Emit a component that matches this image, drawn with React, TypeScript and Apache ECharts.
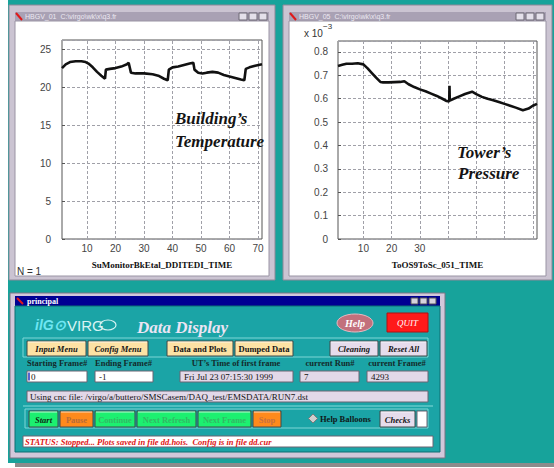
import React, { useEffect, useRef } from 'react';
import * as echarts from 'echarts';

// ---------- data ----------
const tempX = [1.2, 2.5, 4, 6, 8, 9.5, 10.5, 12, 13.5, 15, 16.3, 16.6, 18, 20, 22, 24, 24.6, 25.4, 27, 30, 33, 35, 37, 38.3, 38.7, 40, 42, 44, 46, 47.3, 47.7, 49, 50.5, 52, 54, 56, 58, 60, 62, 64, 65.2, 65.7, 67, 69, 71.4];
const tempY = [22.5, 23.0, 23.3, 23.4, 23.4, 23.3, 23.1, 22.6, 22.0, 21.5, 21.1, 22.3, 22.4, 22.5, 22.7, 23.0, 23.2, 21.9, 21.8, 21.8, 21.7, 21.5, 21.1, 20.9, 22.3, 22.6, 22.7, 22.9, 23.1, 23.2, 22.3, 21.9, 21.8, 21.9, 22.0, 21.9, 21.6, 21.4, 21.2, 21.0, 20.9, 22.4, 22.6, 22.8, 23.0];

const presX = [1, 2.5, 4, 6, 8, 10, 11.5, 13, 14.5, 16, 17, 19, 21, 23, 24.5, 26, 28, 30, 32, 34, 36, 38, 39.5, 40.4, 40.5, 40.6, 42, 44, 46, 48.5, 50, 52, 54, 56, 58, 60, 62, 64, 66.5, 68.5, 70, 71.5];
const presY = [0.74, 0.745, 0.75, 0.75, 0.752, 0.747, 0.73, 0.71, 0.69, 0.672, 0.67, 0.67, 0.671, 0.672, 0.675, 0.662, 0.65, 0.64, 0.632, 0.622, 0.612, 0.6, 0.59, 0.588, 0.655, 0.592, 0.6, 0.61, 0.62, 0.63, 0.62, 0.608, 0.6, 0.594, 0.586, 0.578, 0.57, 0.562, 0.551, 0.558, 0.57, 0.578];

const xGridValues = [10, 20, 30, 40, 50, 60, 70];
const tempXLabels = [10, 20, 30, 40, 50, 60, 70];
const presXLabels = [10, 20, 30];
const tempAxisName = 'SuMonitorBkEtal_DDITEDI_TIME';
const presAxisName = 'ToOS9ToSc_051_TIME';
const tempNote = ['Building\u2019s', 'Temperature'];
const presNote = ['Tower\u2019s', 'Pressure'];

const menuLabels = ['Input Menu', 'Config Menu', 'Data and Plots', 'Dumped Data', 'Cleaning', 'Reset All'];
const fieldLabels = ['Starting Frame#', 'Ending Frame#', 'UT\u2019s Time of first frame', 'current Run#', 'current Frame#'];
const fieldValues = ['0', '-1', 'Fri Jul 23 07:15:30 1999', '7', '4293'];
const fileLine = 'Using cnc file: /virgo/a/buttero/SMSCasem/DAQ_test/EMSDATA/RUN7.dst';
const controlLabels = ['Start', 'Pause', 'Continue', 'Next Refresh', 'Next Frame', 'Stop'];
const statusLine = 'STATUS: Stopped... Plots saved in file dd.hois.  Config is in file dd.cur';

// ---------- helpers ----------
const SERIF = "'Liberation Serif', 'DejaVu Serif', serif";
const SANS = "'Liberation Sans', Arial, sans-serif";

const R = (x: number, y: number, w: number, h: number, fill: string, stroke = 'none', z = 1, lw = 1) => ({
  type: 'rect', z, silent: true, shape: { x, y, width: w, height: h }, style: { fill, stroke, lineWidth: lw },
});
const T = (x: number, y: number, text: string, font: string, fill: string, align = 'left', z = 12) => ({
  type: 'text', z, silent: true, x, y, style: { text, font, fill, align, verticalAlign: 'middle' },
});
const L = (x1: number, y1: number, x2: number, y2: number, stroke: string, lw = 1, z = 2) => ({
  type: 'line', z, silent: true, shape: { x1, y1, x2, y2 }, style: { stroke, lineWidth: lw },
});

function windowFrame(x: number, y: number, w: number, h: number, title: string) {
  const els: any[] = [];
  els.push(R(x, y, w, h, '#cbc4d2', '#8e8898', -10));
  els.push(R(x + 6, y + 7, w - 12, 9, '#a9a1b4', 'none', -9));
  els.push(L(x + 7, y + 8, x + 13, y + 15, '#e01818', 2, -8));
  els.push(T(x + 16, y + 11.5, title, `7px ${SANS}`, '#ece8f2', 'left', -8));
  for (let i = 0; i < 3; i++) {
    els.push(R(x + w - 36 + i * 10, y + 8, 8, 7, '#e4e0ea', '#6c6874', -8));
  }
  els.push(R(x + 6, y + 16, w - 12, h - 20, '#ffffff', '#9a94a4', -9));
  return els;
}

function button(x: number, y: number, w: number, h: number, fill: string, label: string, color: string, font: string) {
  return [
    R(x, y, w, h, fill, '#3e4a4a', 5),
    L(x + 1, y + 1, x + w - 1, y + 1, 'rgba(255,255,255,0.7)', 1, 6),
    T(x + w / 2, y + h / 2 + 0.5, label, font, color, 'center', 7),
  ];
}

function buildGraphic() {
  const g: any[] = [];
  // desktop
  g.push(R(8, 0, 546, 463, '#17a39b', 'none', -20));
  g.push(R(15, 463, 539, 4, '#8c8c8c', 'none', -20));
  // top windows
  g.push(...windowFrame(9, 5, 266, 275, 'HBGV_01  C:\\virgo\\wk\\x\\q3.fr'));
  g.push(...windowFrame(283, 5, 269, 275, 'HBGV_05  C:\\virgo\\wk\\x\\q3.fr'));

  // annotations
  const noteFont = `italic bold 17px ${SERIF}`;
  g.push(T(175, 118, tempNote[0], noteFont, '#141414', 'left', 30));
  g.push(T(175, 141, tempNote[1], noteFont, '#141414', 'left', 30));
  g.push(T(457, 152, presNote[0], noteFont, '#141414', 'left', 30));
  g.push(T(458, 173, presNote[1], noteFont, '#141414', 'left', 30));
  g.push(T(17, 271, 'N = 1', `10px ${SANS}`, '#333', 'left', 30));
  g.push(T(304, 33, 'x 10', `10px ${SANS}`, '#333', 'left', 30));
  g.push(T(323, 26, '\u22123', `8px ${SANS}`, '#333', 'left', 30));

  // bottom panel
  g.push(R(10, 293, 435, 165, '#d2c8da', '#7a7484', 0));
  g.push(R(15, 296, 425, 10, '#000092', 'none', 1));
  g.push(L(17, 298, 23, 304, '#e01818', 2, 2));
  g.push(T(27, 301, 'principal', `bold 8px ${SERIF}`, '#ffffff', 'left', 2));
  for (let i = 0; i < 3; i++) g.push(R(411 + i * 9, 298, 7, 6, '#d6d2dc', '#555', 2));
  g.push(R(15, 306, 425, 146, '#1ba4a6', '#0f6f72', 1));

  // logo + title
  g.push(T(35, 325, 'ilG\u2299', `italic bold 14px ${SANS}`, '#6fe6f2', 'left', 4));
  g.push(T(67, 325, 'VIRG', `15px ${SANS}`, '#d8f4f4', 'left', 4));
  g.push({ type: 'ellipse', z: 4, silent: true, shape: { cx: 108, cy: 325, rx: 8, ry: 5 }, style: { fill: 'none', stroke: '#d8f4f4', lineWidth: 1.2 } });
  g.push(T(137, 327, 'Data Display', `italic bold 17px ${SERIF}`, '#ece4f4', 'left', 4));
  g.push({ type: 'ellipse', z: 4, silent: true, shape: { cx: 355, cy: 323, rx: 18, ry: 9 }, style: { fill: '#c2707c', stroke: '#e8b8c0', lineWidth: 1 } });
  g.push(T(355, 323.5, 'Help', `italic bold 10px ${SERIF}`, '#ffffff', 'center', 5));
  g.push(R(387, 313, 41, 19, '#ff1a1a', '#b01010', 4));
  g.push(T(407.5, 322.5, 'QUIT', `italic 9px ${SERIF}`, '#ffffff', 'center', 5));

  // menu row
  g.push(R(23, 338, 405, 19, 'none', '#7fd6d6', 3));
  const menuLayout = [
    [27, 59, '#fde2a4', true], [88, 60, '#fde2a4', true], [167, 66, '#fde2a4', false],
    [235, 58, '#fde2a4', false], [330, 48, '#e6dcec', true], [380, 47, '#e6dcec', true],
  ] as const;
  menuLabels.forEach((lab, i) => {
    const [x, w, fill, it] = menuLayout[i];
    g.push(...button(x, 341, w, 15, fill, lab, '#141414', `${it ? 'italic ' : ''}bold 8.5px ${SERIF}`));
  });

  // labels and fields
  const labFont = `bold 8.5px ${SERIF}`;
  g.push(T(27, 363, fieldLabels[0], labFont, '#142a2a', 'left', 4));
  g.push(T(95, 363, fieldLabels[1], labFont, '#142a2a', 'left', 4));
  g.push(T(236, 363, fieldLabels[2], labFont, '#142a2a', 'center', 4));
  g.push(T(330, 363, fieldLabels[3], labFont, '#142a2a', 'center', 4));
  g.push(T(397, 363, fieldLabels[4], labFont, '#142a2a', 'center', 4));
  const fieldLayout = [
    [27, 60, '#ffffff'], [95, 58, '#ffffff'], [180, 113, '#e2d8e8'], [300, 59, '#e2d8e8'], [367, 61, '#e2d8e8'],
  ] as const;
  fieldValues.forEach((v, i) => {
    const [x, w, fill] = fieldLayout[i];
    g.push(R(x, 371, w, 11, fill, '#6a6472', 4));
    g.push(T(x + 4, 376.5, v, `9px ${SERIF}`, '#141414', 'left', 5));
  });
  g.push(L(29, 372.5, 29, 380.5, '#2030c0', 1.5, 6));
  g.push(R(27, 391, 401, 11, '#e2d8e8', '#6a6472', 4));
  g.push(T(30, 396.5, fileLine, `9px ${SERIF}`, '#141414', 'left', 5));
  g.push(L(23, 406, 433, 406, '#86dada', 1, 3));

  // control row
  g.push(R(25, 409, 403, 19, 'none', '#7fd6d6', 3));
  const ctrlLayout = [
    [29, 29, '#1cf070', '#0c2a14'], [60, 33, '#ff8a1c', '#b86a38'], [95, 40, '#1cf070', '#34b864'],
    [137, 59, '#1cf070', '#34b864'], [198, 53, '#1cf070', '#34b864'], [253, 28, '#ff8a1c', '#c87040'],
  ] as const;
  controlLabels.forEach((lab, i) => {
    const [x, w, fill, col] = ctrlLayout[i];
    g.push(...button(x, 411, w, 16, fill, lab, col, `${i === 0 ? 'italic ' : ''}bold 8.5px ${SERIF}`));
  });
  g.push({ type: 'polygon', z: 5, silent: true, shape: { points: [[313, 414], [317.5, 418.5], [313, 423], [308.5, 418.5]] }, style: { fill: '#cfcfcf', stroke: '#7a7a7a' } });
  g.push(T(320, 419, 'Help Balloons', `bold 8.5px ${SERIF}`, '#101818', 'left', 5));
  g.push(...button(380, 411, 35, 16, '#e6dcec', 'Checks', '#141414', `italic bold 8.5px ${SERIF}`));
  g.push(R(417, 411, 10, 16, '#ffffff', '#6a6472', 5));

  // status
  g.push(R(23, 436, 410, 11, '#ffffff', '#6a6472', 4));
  g.push(T(25, 441.5, statusLine, `italic bold 8.5px ${SERIF}`, '#e01414', 'left', 5));
  return g;
}

const gridLineColor = '#a0a0a8';
const axisLabelStyle = { color: '#444', fontSize: 10, fontFamily: SANS };
const splitStyle = { show: true, lineStyle: { color: gridLineColor, width: 1, type: [3, 2] } };
const nameStyle = { color: '#111', fontSize: 9, fontWeight: 'bold', fontFamily: SERIF };

const verticalGrid = () => ({
  silent: true,
  symbol: ['none', 'none'],
  label: { show: false },
  lineStyle: { color: gridLineColor, width: 1, type: [3, 2] },
  emphasis: { disabled: true },
  data: xGridValues.map((v) => ({ xAxis: v })),
});

export default function App() {
  const ref = useRef<HTMLDivElement>(null);
  useEffect(() => {
    if (!ref.current) return;
    const chart = echarts.init(ref.current, undefined, { renderer: 'svg' });
    const option: any = {
      animation: false,
      backgroundColor: '#ffffff',
      graphic: { elements: buildGraphic() },
      grid: [
        { left: 62, top: 40, width: 200, height: 199, show: true, borderColor: '#555', borderWidth: 1, backgroundColor: 'transparent' },
        { left: 338, top: 41, width: 199, height: 198, show: true, borderColor: '#555', borderWidth: 1, backgroundColor: 'transparent' },
      ],
      xAxis: [
        {
          type: 'value', gridIndex: 0, min: 1.2, max: 71.4,
          axisLine: { show: false },
          axisTick: { show: true, inside: true, length: 3, customValues: xGridValues, lineStyle: { color: '#555' } },
          axisLabel: { ...axisLabelStyle, margin: 4, customValues: tempXLabels },
          splitLine: { show: false },
          name: tempAxisName, nameLocation: 'middle', nameGap: 21, nameTextStyle: nameStyle,
        },
        {
          type: 'value', gridIndex: 1, min: 1, max: 71.5,
          axisLine: { show: false },
          axisTick: { show: true, inside: true, length: 3, customValues: xGridValues, lineStyle: { color: '#555' } },
          axisLabel: { ...axisLabelStyle, margin: 4, customValues: presXLabels },
          splitLine: { show: false },
          name: presAxisName, nameLocation: 'middle', nameGap: 21, nameTextStyle: nameStyle,
        },
      ],
      yAxis: [
        {
          type: 'value', gridIndex: 0, min: 0, max: 26.2, interval: 5,
          axisLine: { show: false },
          axisTick: { show: true, inside: true, length: 3, lineStyle: { color: '#555' } },
          axisLabel: { ...axisLabelStyle, margin: 11, showMaxLabel: false, formatter: (v: number) => (Math.abs(v / 5 - Math.round(v / 5)) < 1e-6 ? String(v) : '') },
          splitLine: splitStyle,
        },
        {
          type: 'value', gridIndex: 1, min: 0, max: 0.847, interval: 0.1,
          axisLine: { show: false },
          axisTick: { show: true, inside: true, length: 3, lineStyle: { color: '#555' } },
          axisLabel: { ...axisLabelStyle, margin: 10, showMaxLabel: false, formatter: (v: number) => (v === 0 ? '0' : Math.abs(v * 10 - Math.round(v * 10)) < 1e-6 ? v.toFixed(1) : '') },
          splitLine: splitStyle,
        },
      ],
      series: [
        {
          type: 'line', xAxisIndex: 0, yAxisIndex: 0, symbol: 'none', z: 5,
          data: tempX.map((x, i) => [x, tempY[i]]),
          lineStyle: { color: '#111', width: 2.6 },
          markLine: verticalGrid(),
        },
        {
          type: 'line', xAxisIndex: 1, yAxisIndex: 1, symbol: 'none', z: 5,
          data: presX.map((x, i) => [x, presY[i]]),
          lineStyle: { color: '#111', width: 2.6 },
          markLine: verticalGrid(),
        },
      ],
    };
    chart.setOption(option);
    return () => chart.dispose();
  }, []);
  return <div ref={ref} style={{ position: 'absolute', left: 0, top: 0, width: 554, height: 468 }} />;
}
